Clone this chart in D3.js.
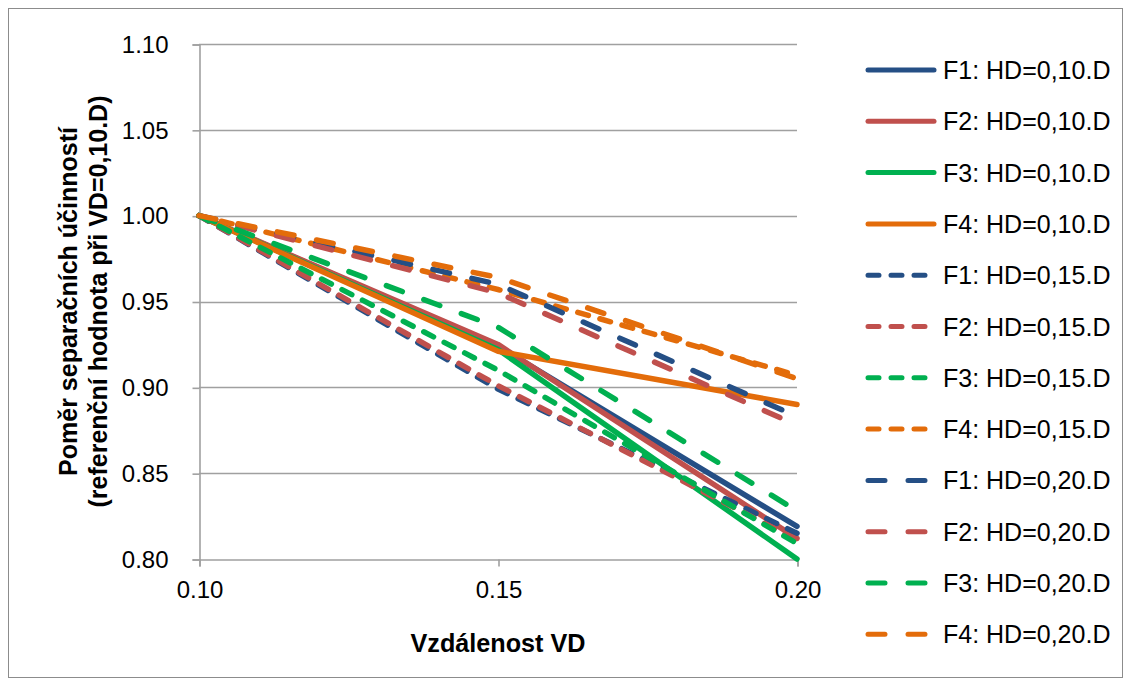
<!DOCTYPE html>
<html>
<head>
<meta charset="utf-8">
<script src="https://cdn.jsdelivr.net/npm/d3@7"></script>
<style>
  html, body { margin: 0; padding: 0; background: #fff; }
  svg { display: block; font-family: "Liberation Sans", Arial, sans-serif; }
</style>
</head>
<body>
<svg id="chart" width="1131" height="686"></svg>
<script>
// ---- data ----
const vd = [0.10, 0.15, 0.20];
const xTicks = [0.10, 0.15, 0.20];
const yTicks = [0.80, 0.85, 0.90, 0.95, 1.00, 1.05, 1.10];

const F1_10 = [1.000, 0.924, 0.819];
const F2_10 = [1.000, 0.925, 0.812];
const F3_10 = [1.000, 0.922, 0.800];
const F4_10 = [1.000, 0.921, 0.890];
const F1_15 = [1.000, 0.899, 0.815];
const F2_15 = [1.000, 0.901, 0.811];
const F3_15 = [1.000, 0.910, 0.809];
const F4_15 = [1.000, 0.957, 0.907];
const F1_20 = [1.000, 0.960, 0.883];
const F2_20 = [1.000, 0.955, 0.878];
const F3_20 = [1.000, 0.935, 0.828];
const F4_20 = [1.000, 0.964, 0.905];

const seriesNames = [
  "F1: HD=0,10.D", "F2: HD=0,10.D", "F3: HD=0,10.D", "F4: HD=0,10.D",
  "F1: HD=0,15.D", "F2: HD=0,15.D", "F3: HD=0,15.D", "F4: HD=0,15.D",
  "F1: HD=0,20.D", "F2: HD=0,20.D", "F3: HD=0,20.D", "F4: HD=0,20.D"
];
const seriesFamily = ["F1", "F2", "F3", "F4", "F1", "F2", "F3", "F4", "F1", "F2", "F3", "F4"];
const seriesHD = ["10", "10", "10", "10", "15", "15", "15", "15", "20", "20", "20", "20"];
const seriesValues = [F1_10, F2_10, F3_10, F4_10, F1_15, F2_15, F3_15, F4_15, F1_20, F2_20, F3_20, F4_20];

const colors = { F1: "#254f85", F2: "#c0504d", F3: "#00b050", F4: "#e36c0a" };
const dashes = { "10": null, "15": "11,12", "20": "17,23" };

const series = seriesNames.map((name, i) => ({
  name,
  values: seriesValues[i],
  color: colors[seriesFamily[i]],
  dash: dashes[seriesHD[i]]
}));

// ---- layout ----
const svg = d3.select("#chart");
const plot = { left: 199, right: 797, top: 44, bottom: 559 };

const x = d3.scaleLinear().domain([0.10, 0.20]).range([plot.left, plot.right]);
const y = d3.scaleLinear().domain([0.80, 1.10]).range([plot.bottom, plot.top]);

// outer border
svg.append("rect")
  .attr("x", 8.5).attr("y", 8.5)
  .attr("width", 1114).attr("height", 669)
  .attr("fill", "none").attr("stroke", "#8c8c8c").attr("stroke-width", 1);

// gridlines
svg.append("g")
  .selectAll("line")
  .data(yTicks.filter(t => t > 0.801))
  .join("line")
  .attr("x1", plot.left).attr("x2", plot.right)
  .attr("y1", d => Math.round(y(d)) + 0.5).attr("y2", d => Math.round(y(d)) + 0.5)
  .attr("stroke", "#a0a0a0").attr("stroke-width", 1.6);

// y axis
const yAxis = d3.axisLeft(y).tickValues(yTicks).tickFormat(d3.format(".2f")).tickSize(7).tickPadding(24);
const gy = svg.append("g").attr("transform", `translate(${plot.left + 0.5},0.5)`).call(yAxis);
gy.select(".domain").attr("stroke", "#a0a0a0").attr("stroke-width", 1.6);
gy.selectAll(".tick line").attr("stroke", "#a0a0a0").attr("stroke-width", 1.6);
gy.selectAll(".tick text").attr("font-size", 24).attr("fill", "#000")
  .attr("font-family", "Liberation Sans, Arial, sans-serif");

// x axis
const xAxis = d3.axisBottom(x).tickValues(xTicks).tickFormat(d3.format(".2f")).tickSize(7).tickPadding(14);
const gx = svg.append("g").attr("transform", `translate(0.5,${plot.bottom + 0.5})`).call(xAxis);
gx.select(".domain").attr("stroke", "#a0a0a0").attr("stroke-width", 1.6);
gx.selectAll(".tick line").attr("stroke", "#a0a0a0").attr("stroke-width", 1.6);
gx.selectAll(".tick text").attr("font-size", 24).attr("fill", "#000")
  .attr("font-family", "Liberation Sans, Arial, sans-serif");

// series lines
const line = d3.line().x((d, i) => x(vd[i])).y(d => y(d));
svg.append("g")
  .selectAll("path")
  .data(series)
  .join("path")
  .attr("d", d => line(d.values))
  .attr("fill", "none")
  .attr("stroke", d => d.color)
  .attr("stroke-width", 5.5)
  .attr("stroke-linecap", "round")
  .attr("stroke-linejoin", "round")
  .attr("stroke-dasharray", d => d.dash);

// axis titles
svg.append("text")
  .attr("x", (plot.left + plot.right) / 2).attr("y", 652)
  .attr("text-anchor", "middle")
  .attr("font-size", 26).attr("font-weight", "bold")
  .attr("textLength", 175).attr("lengthAdjust", "spacingAndGlyphs")
  .text("Vzdálenost VD");

const yMid = (plot.top + plot.bottom) / 2;
svg.append("text")
  .attr("transform", `translate(77,${yMid}) rotate(-90)`)
  .attr("text-anchor", "middle")
  .attr("font-size", 26).attr("font-weight", "bold")
  .attr("textLength", 349).attr("lengthAdjust", "spacingAndGlyphs")
  .text("Poměr separačních účinností");
svg.append("text")
  .attr("transform", `translate(107,${yMid}) rotate(-90)`)
  .attr("text-anchor", "middle")
  .attr("font-size", 26).attr("font-weight", "bold")
  .attr("textLength", 412).attr("lengthAdjust", "spacingAndGlyphs")
  .text("(referenční hodnota při VD=0,10.D)");

// legend
const legend = svg.append("g");
const rows = legend.selectAll("g")
  .data(series)
  .join("g")
  .attr("transform", (d, i) => `translate(0,${70 + i * 51.3})`);
rows.append("line")
  .attr("x1", 868).attr("x2", 934)
  .attr("y1", 0).attr("y2", 0)
  .attr("stroke", d => d.color)
  .attr("stroke-width", 5)
  .attr("stroke-linecap", "round")
  .attr("stroke-dasharray", d => d.dash);
rows.append("text")
  .attr("x", 943).attr("y", 0).attr("dy", "0.36em")
  .attr("font-size", 25).attr("fill", "#000")
  .text(d => d.name);
</script>
</body>
</html>
